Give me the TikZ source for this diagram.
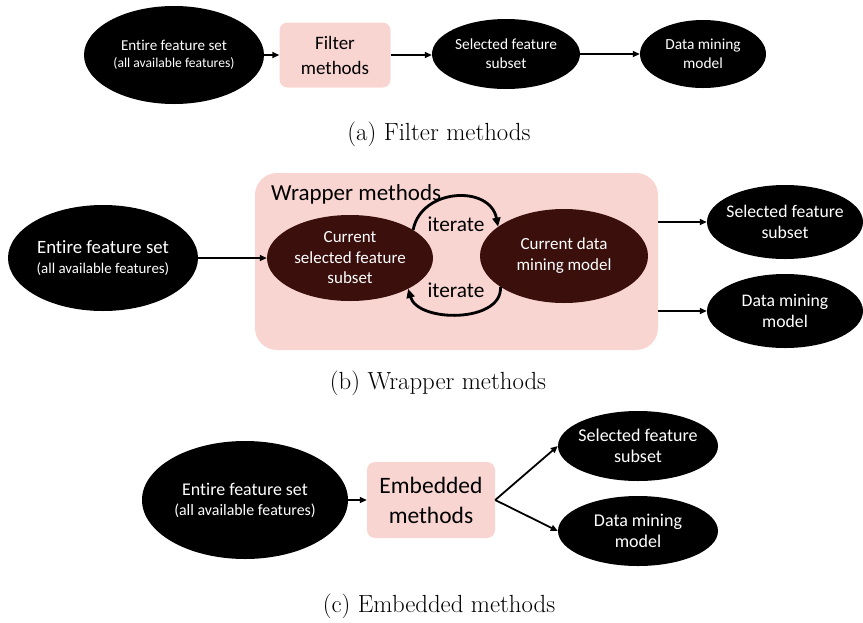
\documentclass[tikz,border=0pt]{standalone}
\usepackage{fontspec}
\usetikzlibrary{shapes.geometric,arrows.meta}
\newfontfamily\carl[Ligatures=CommonOff]{Carlito}
\newcommand\fsz[2]{\fontsize{#1}{#2}\selectfont}
\definecolor{boxpink}{HTML}{F9D5D2}
\definecolor{darkoval}{HTML}{3A0F0C}
\tikzset{
  oval/.style={ellipse, fill=black, text=white, inner xsep=-10pt, inner ysep=0pt, align=center},
  inoval/.style={oval, fill=darkoval},
  methodbox/.style={rectangle, rounded corners=8pt, fill=boxpink, inner sep=0pt, align=center},
  flow/.style={-{Triangle[length=7pt,width=6pt]}, line width=1.8pt},
  loop/.style={-{Triangle[length=9pt,width=8pt]}, line width=2.8pt},
  caption/.style={font=\fsz{24.8}{29}}
}
\begin{document}
\begin{tikzpicture}[x=1pt,y=-1pt]
\useasboundingbox (0,0) rectangle (863,622);

% ---------- (a) filter methods ----------
\node[oval, minimum width=180pt, minimum height=98pt, font=\carl\fsz{15.1}{17}] (ent1) at (174,55)
  {Entire feature set\\{\fsz{13.6}{17}(all available features)}};
\node[methodbox, minimum width=111pt, minimum height=65pt, font=\carl\fsz{19}{25}] (filt) at (335,55)
  {Filter\\methods};
\node[oval, minimum width=148pt, minimum height=70pt, font=\carl\fsz{15.4}{19}] (sel1) at (506,54)
  {Selected feature\\subset};
\node[oval, minimum width=126pt, minimum height=68pt, font=\carl\fsz{15.4}{19}] (dm1) at (703,54)
  {Data mining\\model};
\draw[flow] (ent1.east) -- (filt.west);
\draw[flow] (filt.east) -- (filt.east -| sel1.west);
\draw[flow] (sel1.east) -- (dm1.west);
\node[caption] (capa) at (439,134) {(a) Filter methods};

% ---------- (b) wrapper methods ----------
\node[rectangle, rounded corners=22pt, fill=boxpink, minimum width=403pt, minimum height=177pt] (wrap) at (456.5,261.5) {};
\node[anchor=west, font=\carl\fsz{23}{27}, inner sep=0pt] (wraplbl) at (271,194) {Wrapper methods};
\node[oval, minimum width=190pt, minimum height=106pt, font=\carl\fsz{18.8}{20}] (ent2) at (103,258)
  {Entire feature set\\{\fsz{14.9}{20}(all available features)}};
\node[inoval, minimum width=166pt, minimum height=86pt, font=\carl\fsz{17}{20.5}] (cur) at (350,258)
  {Current\\selected feature\\subset};
\node[inoval, minimum width=168pt, minimum height=94pt, font=\carl\fsz{17}{21}] (dat) at (564,256)
  {Current data\\mining model};
\node[oval, minimum width=156pt, minimum height=74pt, font=\carl\fsz{17.7}{21}] (sel2) at (785,222)
  {Selected feature\\subset};
\node[oval, minimum width=156pt, minimum height=74pt, font=\carl\fsz{17.7}{21}] (dm2) at (785,311)
  {Data mining\\model};
\draw[flow] (ent2.east) -- (cur.west);
\draw[flow] (wrap.east |- sel2.west) -- (sel2.west);
\draw[flow] (wrap.east |- dm2.west) -- (dm2.west);
\draw[loop] (cur.24) .. controls +(8,-42) and +(-8,-42) .. (dat.156);
\draw[loop] (dat.206) .. controls +(2,36) and +(10,34) .. (cur.332);
\node[font=\carl\fsz{21.3}{24}, inner sep=0pt] (it1) at (456,224) {iterate};
\node[font=\carl\fsz{21.3}{24}, inner sep=0pt] (it2) at (456,290) {iterate};
\node[caption] (capb) at (438,383) {(b) Wrapper methods};

% ---------- (c) embedded methods ----------
\node[oval, minimum width=206pt, minimum height=118pt, font=\carl\fsz{17.9}{20}] (ent3) at (245,500)
  {Entire feature set\\{\fsz{15.9}{20}(all available features)}};
\node[methodbox, minimum width=128pt, minimum height=76pt, font=\carl\fsz{23.5}{30}] (emb) at (431,500)
  {Embedded\\methods};
\node[oval, minimum width=160pt, minimum height=70pt, font=\carl\fsz{18}{21.5}] (sel3) at (638,446)
  {Selected feature\\subset};
\node[oval, minimum width=160pt, minimum height=70pt, font=\carl\fsz{18}{21.5}] (dm3) at (638,531)
  {Data mining\\model};
\draw[flow] (ent3.east) -- (emb.west);
\draw[flow] (emb.east) -- (sel3.west);
\draw[flow] (emb.east) -- (dm3.west);
\node[caption] (capc) at (439,606) {(c) Embedded methods};
\end{tikzpicture}
\end{document}
